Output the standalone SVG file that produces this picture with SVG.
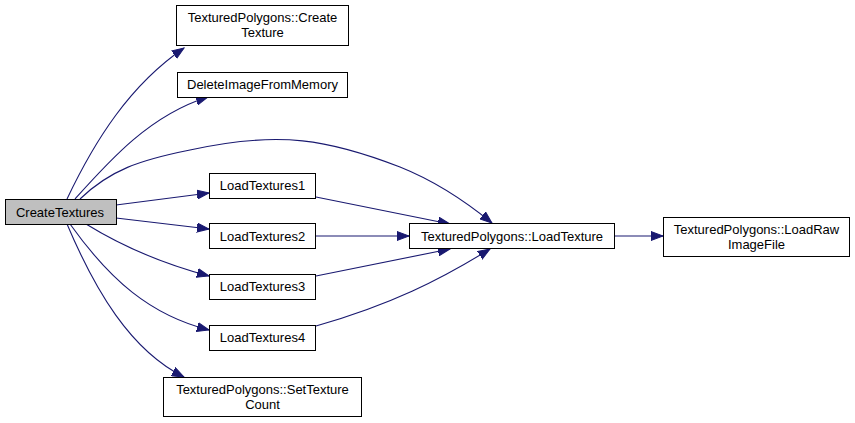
<svg xmlns="http://www.w3.org/2000/svg" width="855" height="423" viewBox="0 0 855 423">
<style>
.n rect{fill:#fff;stroke:#000;stroke-width:1}
.n text{font-family:"Liberation Sans",Arial,sans-serif;font-size:13px;fill:#000;text-anchor:middle}
.e path{fill:none;stroke:#191970;stroke-width:1.1}
</style>
<defs>
<marker id="a" markerUnits="userSpaceOnUse" markerWidth="13" markerHeight="10" refX="12" refY="4.5" orient="auto" viewBox="0 0 13 9">
<path d="M0,0 L12,4.5 L0,9 Z" fill="#191970" stroke="#191970" stroke-width="1"/>
</marker>
</defs>
<rect width="855" height="423" fill="#fff"/>
<g class="e">
<path marker-end="url(#a)" d="M67,199 C95,140 130,85 184,48"/>
<path marker-end="url(#a)" d="M75,199 C110,160 150,115 208,97"/>
<path marker-end="url(#a)" d="M80,199 C110,170 140,160 190,150 C280,130 330,140 400,167 C440,183 470,205 492,223"/>
<path marker-end="url(#a)" d="M116,205 L209,193"/>
<path marker-end="url(#a)" d="M116,218 L209,229"/>
<path marker-end="url(#a)" d="M86,224 C120,245 160,263 209,276"/>
<path marker-end="url(#a)" d="M70,224 C110,280 150,315 209,330"/>
<path marker-end="url(#a)" d="M67,224 C95,290 130,350 184,377"/>
<path marker-end="url(#a)" d="M316,197 L450,224"/>
<path marker-end="url(#a)" d="M316,236 L409,236"/>
<path marker-end="url(#a)" d="M316,276 L450,249"/>
<path marker-end="url(#a)" d="M316,326 C390,305 440,280 490,249"/>
<path marker-end="url(#a)" d="M615,236 L663,236"/>
</g>
<g id="n0" class="n"><rect x="5.5" y="199.5" width="111" height="25" style="fill:#bfbfbf"/><text x="60" y="216.5">CreateTextures</text></g>
<g id="n1" class="n"><rect x="176.5" y="5.5" width="172" height="40"/><text x="262.5" y="22">TexturedPolygons::Create</text><text x="262.5" y="37">Texture</text></g>
<g id="n2" class="n"><rect x="177.5" y="72.5" width="170" height="25"/><text x="262.5" y="89">DeleteImageFromMemory</text></g>
<g id="n3" class="n"><rect x="209.5" y="173.5" width="106" height="25"/><text x="262.5" y="190">LoadTextures1</text></g>
<g id="n4" class="n"><rect x="209.5" y="223.5" width="106" height="25"/><text x="262.5" y="240.5">LoadTextures2</text></g>
<g id="n5" class="n"><rect x="209.5" y="274.5" width="106" height="25"/><text x="262.5" y="291">LoadTextures3</text></g>
<g id="n6" class="n"><rect x="209.5" y="325.5" width="106" height="25"/><text x="262.5" y="342">LoadTextures4</text></g>
<g id="n7" class="n"><rect x="163.5" y="377.5" width="198" height="39"/><text x="262.5" y="394">TexturedPolygons::SetTexture</text><text x="262.5" y="409">Count</text></g>
<g id="n8" class="n"><rect x="409.5" y="223.5" width="205" height="25"/><text x="512" y="240.5">TexturedPolygons::LoadTexture</text></g>
<g id="n9" class="n"><rect x="663.5" y="217.5" width="186" height="39"/><text x="756.5" y="234">TexturedPolygons::LoadRaw</text><text x="756.5" y="249">ImageFile</text></g>
</svg>
